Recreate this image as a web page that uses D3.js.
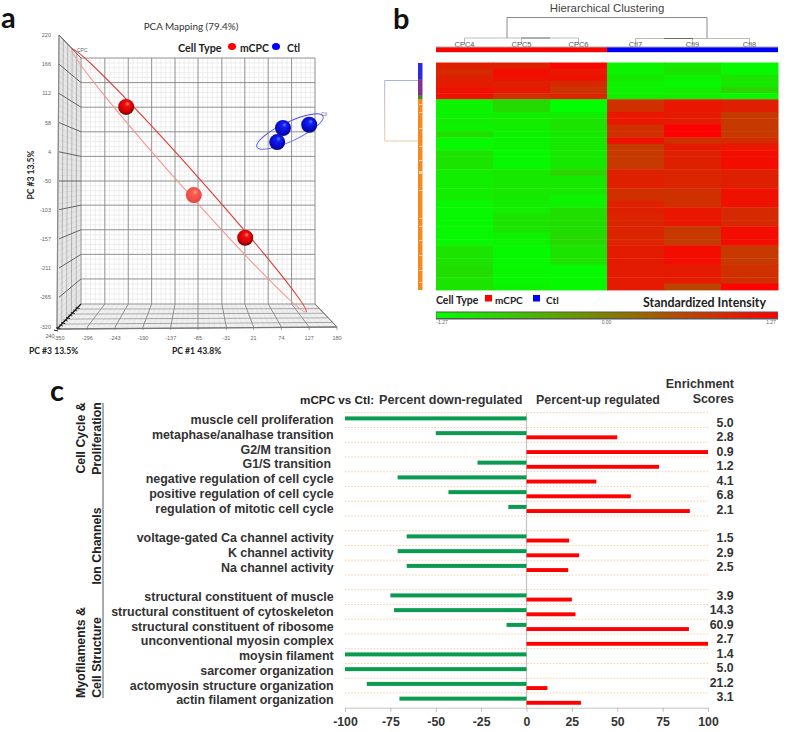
<!DOCTYPE html>
<html><head><meta charset="utf-8">
<script src="https://cdn.jsdelivr.net/npm/d3@7/dist/d3.min.js"></script>
<style>html,body{margin:0;padding:0;background:#fff}svg{display:block}</style>
</head><body><svg id="c" width="787" height="732"></svg>
<script>
// ---------- Panel a data ----------
const pc1Ticks = [-350,-296,-243,-190,-137,-85,-31,21,74,127,180];
const pc3Ticks = [220,166,112,58,4,-50,-103,-157,-211,-265,-320];
const pcaPC1 = [-222,-93,5,77,66,127];
const pcaPC3 = [87,-76,-155,48,22,54];
const pcaGroup = ["mCPC","mCPC","mCPC","Ctl","Ctl","Ctl"];
const pcaShade = [0,1,0,0,0,0];
// ---------- Panel b data ----------
const sampleNames = ["CPC4","CPC5","CPC6","Ctl7","Ctl9","Ctl8"];
const heatTop = [
 [0.95,0.85,0.95,1.0,1.1,1.1],
 [0.95,1.15,1.1,0.95,1.05,0.8],
 [1.2,1.05,1.1,0.85,0.75,0.9],
 [-1.15,-1.15,-1.05,-1.15,-1.15,-1.1],
 [-1.05,-1.0,-1.15,-1.2,-1.1,-1.1],
 [-1.2,-1.2,-1.0,-1.05,-0.85,-1.2]];
const heatCPC4 = [-1.15,-1.15,-1.15,-1.1,-1.15,-0.95,-1.2,-1.2,-1.0,-1.0,-1.0,-1.1,-1.1,-1.1,-1.1,-1.1,-1.2,-1.2,-1.2,-1.2,-1.2,-1.2,-1.2,-1.0,-1.0,-1.0,-0.95,-0.95,-1.0,-1.0];
const heatCPC5 = [-0.9,-0.9,-1.1,-1.1,-1.1,-1.15,-1.15,-1.15,-1.2,-1.2,-1.2,-1.05,-1.05,-1.05,-1.05,-1.05,-1.1,-1.1,-1.0,-1.0,-1.0,-1.15,-1.15,-1.22,-1.22,-1.22,-1.2,-1.2,-1.2,-1.15];
const heatCPC6 = [-1.27,-1.27,-1.1,-1.0,-1.0,-1.05,-1.05,-1.05,-1.05,-1.05,-1.05,-0.85,-1.05,-1.05,-1.05,-1.15,-1.15,-0.95,-0.95,-0.95,-0.95,-0.9,-0.9,-1.0,-1.0,-1.0,-1.22,-1.22,-1.22,-1.22];
const heatCtl7 = [0.8,0.8,1.05,1.05,0.8,0.8,1.1,0.7,0.7,0.7,0.7,0.95,0.95,0.95,0.8,0.8,0.95,0.95,0.9,0.9,0.9,0.9,0.9,1.0,1.0,1.0,1.0,1.0,1.0,1.0];
const heatCtl9 = [1.05,1.05,1.0,1.0,1.27,1.27,0.8,1.0,0.95,0.95,0.95,0.9,0.9,0.9,0.8,0.8,0.8,1.05,1.05,1.05,0.7,0.7,0.7,1.15,1.15,1.15,1.0,1.0,1.0,0.6];
const heatCtl8 = [0.95,0.95,0.7,0.7,0.7,0.7,0.85,1.05,1.15,1.15,1.15,0.95,0.95,0.95,1.1,1.1,1.1,0.85,0.85,0.85,1.15,1.15,1.15,0.7,0.7,0.7,0.8,0.8,0.8,1.25];
const colorTicks = [-1.27,0,1.27];
const clusterSpecks = [104,112,128,146,160,171,172,173,190,218,226,240,255,270,282];
// ---------- Panel c data ----------
const terms = ["muscle cell proliferation","metaphase/analhase transition","G2/M transition ","G1/S transition ","negative regulation of cell cycle","positive regulation of cell cycle","regulation of mitotic cell cycle","",
 "voltage-gated Ca channel activity","K channel activity","Na channel activity"," ",
 "structural constituent of muscle","structural constituent of cytoskeleton","structural constituent of ribosome","unconventional myosin complex","moysin filament","sarcomer organization","actomyosin structure organization","actin filament organization"];
const percentDown = [-100,-50,0,-27,-71,-43,-10,null,-66,-71,-66,null,-75,-73,-11,0,-100,-100,-88,-70];
const percentUp = [0,50,100,73,38.5,57.5,90,null,23.5,29,23,null,25,27,89.5,100,0,0,11.5,30];
const enrichment = ["5.0","2.8","0.9","1.2","4.1","6.8","2.1","","1.5","2.9","2.5","","3.9","14.3","60.9","2.7","1.4","5.0","21.2","3.1"];
const barTicks = [-100,-75,-50,-25,0,25,50,75,100];

const svg = d3.select("#c");
const defs = svg.append("defs");
const SANS = "'Liberation Sans',Arial,sans-serif", CAL = "Lato,'Open Sans',sans-serif";
function txt(x,y,s,size,opt={}){
  const t = svg.append("text").attr("x",x).attr("y",y).text(s)
    .attr("font-family",opt.f||SANS).attr("font-size",size)
    .attr("font-weight",opt.w||"normal").attr("fill",opt.c||"#222")
    .attr("text-anchor",opt.a||"start");
  if(opt.r!=null) t.attr("transform",`rotate(${opt.r} ${x} ${y})`);
  return t;
}
function ln(g,x1,y1,x2,y2,c,w){g.append("line").attr("x1",x1).attr("y1",y1).attr("x2",x2).attr("y2",y2).attr("stroke",c).attr("stroke-width",w);}

// Panel letters
txt(1,28,"a",29,{f:CAL,w:"bold",c:"#111"});
txt(393,29,"b",29,{f:CAL,w:"bold",c:"#111"});
txt(50,401,"c",29,{f:CAL,w:"bold",c:"#111"});

// ========== Panel a ==========
const a = svg.append("g");
const xFront = d3.scaleLinear().domain([-350,180]).range([59,337]);
const xBack  = d3.scaleLinear().domain([-350,180]).range([81,315]);
const yFront = d3.scaleLinear().domain([-320,220]).range([327,35]);
const yBack  = d3.scaleLinear().domain([-320,220]).range([304,58]);
const minorC="#e2e2e2", majorC="#858585";
const nMinor = 5;
for(let i=0;i<10;i++)for(let k=1;k<nMinor;k++){
  const fx = pc1Ticks[i]+(pc1Ticks[i+1]-pc1Ticks[i])*k/nMinor;
  ln(a,xBack(fx),58,xBack(fx),304,minorC,.6);
  ln(a,xBack(fx),304,xFront(fx),327,minorC,.6);
  const fy = pc3Ticks[i]+(pc3Ticks[i+1]-pc3Ticks[i])*k/nMinor;
  ln(a,81,yBack(fy),315,yBack(fy),minorC,.6);
  ln(a,59,yFront(fy),81,yBack(fy),"#d0d0d0",.6);
}
for(let k=0;k<25;k++){
  const t=k/25;
  ln(a,59+t*22,35+t*23,57+t*24,329-t*25,k%5==0?"#999":"#d4d4d4",k%5==0?.8:.6);
  ln(a,57+t*24,329-t*25,337-t*22,327-t*23,k%5==0?"#888":minorC,k%5==0?.8:.6);
}
pc1Ticks.forEach(v=>{
  ln(a,xBack(v),58,xBack(v),304,majorC,.9);
  ln(a,xBack(v),304,xFront(v),327,majorC,.9);
  ln(a,xFront(v),327,xFront(v),330,"#777",.7);
  txt(xFront(v),340,v,5.5,{a:"middle",c:"#666"});
});
pc3Ticks.forEach(v=>{
  ln(a,81,yBack(v),315,yBack(v),majorC,.9);
  ln(a,xFront(-350),yFront(v),81,yBack(v),"#555",.9);
  txt(51,yFront(v)+2,v,5.5,{a:"end",c:"#666"});
});
ln(a,59,35,81,58,"#666",.9);
ln(a,59,35,57,329,"#888",1.2);
ln(a,57,329,337,327,"#777",1.4);
ln(a,337,327,315,304,"#777",1);
ln(a,57,329,81,304,"#222",1.3);
for(let k=0;k<10;k++){const t=k/10;ln(a,57+t*24-3,329-t*25+1,57+t*24+1,329-t*25+2,"#222",1);}
txt(50,338,"240",5.5,{a:"middle",c:"#555"});
function ell(cx,cy,rx,ry,ang,cDark,cLight,w){
  const g=a.append("g").attr("transform",`translate(${cx},${cy}) rotate(${ang})`);
  g.append("path").attr("d",`M${-rx},0A${rx},${ry} 0 0 1 ${rx},0`).attr("fill","none").attr("stroke",cDark).attr("stroke-width",w);
  g.append("path").attr("d",`M${-rx},0A${rx},${ry} 0 0 0 ${rx},0`).attr("fill","none").attr("stroke",cLight).attr("stroke-width",w);
}
ell(189,180.5,176,9,48.3,"#dd3a32","#f29a90",1.1);
ell(290,131.5,36.5,9.5,-25,"#4a52e6","#6a70f0",1);
txt(77,52,"CPC",5,{c:"#666"});
txt(321,116,"Ctl",5,{c:"#666"});
function grad(id,stops){
  const g=defs.append("radialGradient").attr("id",id).attr("cx","45%").attr("cy","45%").attr("r","60%").attr("fx","62%").attr("fy","28%");
  stops.forEach(([o,c])=>g.append("stop").attr("offset",o).attr("stop-color",c));
}
grad("gr",[[0,"#ff8a80"],[.25,"#f01010"],[.65,"#d80000"],[1,"#500000"]]);
grad("gl",[[0,"#ff9a90"],[.3,"#f55a50"],[.8,"#ee4a44"],[1,"#c03a36"]]);
grad("gb",[[0,"#6a78ff"],[.25,"#1020f0"],[.7,"#0808c8"],[1,"#04046a"]]);
const pts = pcaPC1.map((d,i)=>i);
a.selectAll("circle.s").data(pts).join("circle").attr("class","s")
 .attr("cx",i=>xFront(pcaPC1[i])).attr("cy",i=>yFront(pcaPC3[i])).attr("r",8)
 .attr("fill",i=>pcaGroup[i]==="Ctl"?"url(#gb)":(pcaShade[i]?"url(#gl)":"url(#gr)"));
txt(191,30,"PCA Mapping (79.4%)",9.9,{f:CAL,a:"middle",c:"#333"});
txt(178,52,"Cell Type",10.8,{f:CAL,w:"bold",c:"#222"});
a.append("ellipse").attr("cx",232).attr("cy",46.5).attr("rx",4).attr("ry",3.6).attr("fill","#f00");
txt(240,52,"mCPC",10.4,{f:CAL,w:"bold",c:"#222"});
a.append("ellipse").attr("cx",276).attr("cy",46.5).attr("rx",4).attr("ry",3.6).attr("fill","#00f");
txt(287,52,"Ctl",10.4,{f:CAL,w:"bold",c:"#222"});
txt(34,175,"PC #3 13.5%",8.6,{f:CAL,w:"bold",a:"middle",r:-90,c:"#222"});
txt(29,354,"PC #3 13.5%",8.6,{f:CAL,w:"bold",c:"#222"});
txt(172,354,"PC #1 43.8%",8.6,{f:CAL,w:"bold",c:"#222"});

// ========== Panel b ==========
const b = svg.append("g");
const rowsBottom = d3.range(30);
const colsData = [heatCPC4,heatCPC5,heatCPC6,heatCtl7,heatCtl9,heatCtl8];
const hx = d3.scaleBand().domain(sampleNames).range([436,778]);
const hyTop = d3.scaleBand().domain(d3.range(6)).range([62.5,99.3]);
const hyBot = d3.scaleBand().domain(rowsBottom).range([99.3,290]);
const heatColor = d3.scaleLinear().domain(colorTicks).range(["#00ff00","#808000","#ff0000"]);
const cells = [];
sampleNames.forEach((s,ci)=>{
  heatTop[ci].forEach((v,ri)=>cells.push({s,y:hyTop(ri),h:hyTop.bandwidth(),v}));
  colsData[ci].forEach((v,ri)=>cells.push({s,y:hyBot(ri),h:hyBot.bandwidth(),v}));
});
b.selectAll("rect.h").data(cells).join("rect").attr("class","h")
 .attr("x",d=>hx(d.s)).attr("width",hx.bandwidth()+.5).attr("y",d=>d.y).attr("height",d=>d.h+.4)
 .attr("fill",d=>heatColor(d.v));
const cx = s=>hx(s)+hx.bandwidth()/2, dc="#8a8a8a";
function bracket(g,x1,x2,yTop,y1,y2,c,w){g.append("path").attr("d",`M${x1},${y1}V${yTop}H${x2}V${y2}`).attr("fill","none").attr("stroke",c).attr("stroke-width",w);}
bracket(b,507,707,17.5,38,38,dc,1);
bracket(b,cx("CPC4"),cx("CPC6"),38,44,44,"#aaa",.8);
ln(b,cx("CPC5"),38,cx("CPC5"),44,"#aaa",.8);
ln(b,cx("CPC5"),38,550,38,"#666",.8);
bracket(b,cx("Ctl7"),cx("Ctl8"),38.5,44,44,"#aaa",.8);
ln(b,cx("Ctl9"),38.5,cx("Ctl9"),44,"#aaa",.8);
ln(b,664,38.5,693,38.5,"#555",.8);
b.selectAll("text.sn").data(sampleNames).join("text").attr("class","sn")
 .attr("x",d=>cx(d)).attr("y",47).attr("text-anchor","middle").attr("font-family",SANS).attr("font-size",7.5).attr("fill","#555").text(d=>d);
b.append("rect").attr("x",436).attr("y",46.5).attr("width",342).attr("height",6).attr("fill","#aaa");
b.append("rect").attr("x",436).attr("y",47.5).attr("width",171).attr("height",4.5).attr("fill","#f00");
b.append("rect").attr("x",607).attr("y",47.5).attr("width",171).attr("height",4.5).attr("fill","#00f");
txt(607,12,"Hierarchical Clustering",11.4,{a:"middle",c:"#444"});
const lg = defs.append("linearGradient").attr("id","ld").attr("x1",0).attr("y1",0).attr("x2",0).attr("y2",1);
lg.append("stop").attr("offset",0).attr("stop-color","#aab0e8");
lg.append("stop").attr("offset",1).attr("stop-color","#f5c9a0");
b.append("path").attr("d","M418,80.5H384.7").attr("stroke","#aab0e8").attr("fill","none");
b.append("rect").attr("x",384.2).attr("y",80.5).attr("width",1).attr("height",60.5).attr("fill","url(#ld)");
b.append("path").attr("d","M384.7,141H418").attr("stroke","#f5c9a0").attr("fill","none");
[[63,79,"#2a2ae0"],[79,95,"#84308c"],[95,99,"#3c8a3c"],[99,290,"#f58a20"]].forEach(([y0,y1,c])=>
  b.append("rect").attr("x",418).attr("y",y0).attr("width",4.5).attr("height",y1-y0).attr("fill",c));
b.selectAll("rect.sp").data(clusterSpecks).join("rect").attr("class","sp").attr("x",419).attr("width",3).attr("y",d=>d).attr("height",.8).attr("fill","#ffe6cc");
txt(436,304,"Cell Type",10.5,{f:CAL,w:"bold",c:"#222"});
b.append("rect").attr("x",485).attr("y",295).attr("width",7).attr("height",6.5).attr("fill","#f00");
txt(495,304,"mCPC",10,{f:CAL,w:"bold",c:"#222"});
b.append("rect").attr("x",533).attr("y",295).attr("width",7).attr("height",6.5).attr("fill","#00f");
txt(546,304,"Ctl",10,{f:CAL,w:"bold",c:"#222"});
txt(643,307,"Standardized Intensity",12.4,{f:CAL,w:"bold",c:"#222"});
const cg = defs.append("linearGradient").attr("id","cb");
colorTicks.forEach((v,i)=>cg.append("stop").attr("offset",i/2).attr("stop-color",heatColor(v)));
b.append("rect").attr("x",436).attr("y",311.5).attr("width",342).attr("height",8).attr("fill","#555");
b.append("rect").attr("x",436.5).attr("y",312.5).attr("width",341).attr("height",5.5).attr("fill","url(#cb)");
const cbx = d3.scaleLinear().domain([-1.27,1.27]).range([442,771]);
colorTicks.forEach(v=>txt(cbx(v),324,v.toFixed(2),5,{a:"middle",c:"#666"}));

// ========== Panel c ==========
const c = svg.append("g");
const bx = d3.scaleLinear().domain([-100,100]).range([345,708]);
const by = d3.scaleBand().domain(terms).range([412.7,707.7]);
const enrichY = d3.scaleLinear().domain([0,19]).range([427,701]);
const bh = by.bandwidth();
d3.range(20).forEach(i=>{
  const y=412.7+i*bh;
  c.append("line").attr("x1",345).attr("x2",708).attr("y1",y).attr("y2",y)
   .attr("stroke","#f9c08c").attr("stroke-width",1).attr("stroke-dasharray","1.2 2");
});
c.append("line").attr("x1",bx(0)).attr("x2",bx(0)).attr("y1",412.7).attr("y2",707.7).attr("stroke","#c4c4c4").attr("stroke-width",1.2);
const axis = d3.axisBottom(bx).tickValues(barTicks).tickSize(4).tickPadding(6).tickFormat(d=>String(d));
const ag = c.append("g").attr("transform","translate(0,707.7)").call(axis);
ag.select(".domain").attr("stroke","#c4c4c4");
ag.selectAll(".tick line").attr("stroke","#bbb");
ag.selectAll(".tick text").attr("font-family",SANS).attr("font-size",12.3).attr("font-weight","bold").attr("fill","#333");
terms.forEach((t,i)=>{
  if(percentDown[i]==null) return;
  const y=by(t);
  if(percentDown[i]<0) c.append("rect").attr("x",bx(percentDown[i])).attr("width",bx(0)-bx(percentDown[i])).attr("y",y+3.7).attr("height",4).attr("fill","#0a9a50");
  if(percentUp[i]>0) c.append("rect").attr("x",bx(0)).attr("width",bx(percentUp[i])-bx(0)).attr("y",y+7.9).attr("height",3.9).attr("fill","#ff0000");
  txt(t.endsWith(" ")?331:333.7,y+11.5,t.trim(),12.45,{a:"end",w:"bold",c:"#333"});
  txt(733.7,enrichY(i),enrichment[i],12.3,{a:"end",w:"bold",c:"#333"});
});
txt(300,404,"mCPC vs Ctl:",11.7,{w:"bold",c:"#222"});
txt(379,404,"Percent down-regulated",12.6,{w:"bold",c:"#333"});
txt(536,404,"Percent-up regulated",12.4,{w:"bold",c:"#333"});
txt(734,388,"Enrichment",12.4,{a:"end",w:"bold",c:"#333"});
txt(734,403,"Scores",12.4,{a:"end",w:"bold",c:"#333"});
ln(c,103,403,103,698,"#555",1);
[[85,438,"Cell Cycle &"],[101,438.5,"Proliferation"],[101,546,"Ion Channels"],[85,652.5,"Myofilaments &"],[101,657.5,"Cell Structure"]].forEach(([x,y,s])=>
  txt(x,y,s,12.3,{a:"middle",r:-90,w:"bold",c:"#222"}));
</script></body></html>
